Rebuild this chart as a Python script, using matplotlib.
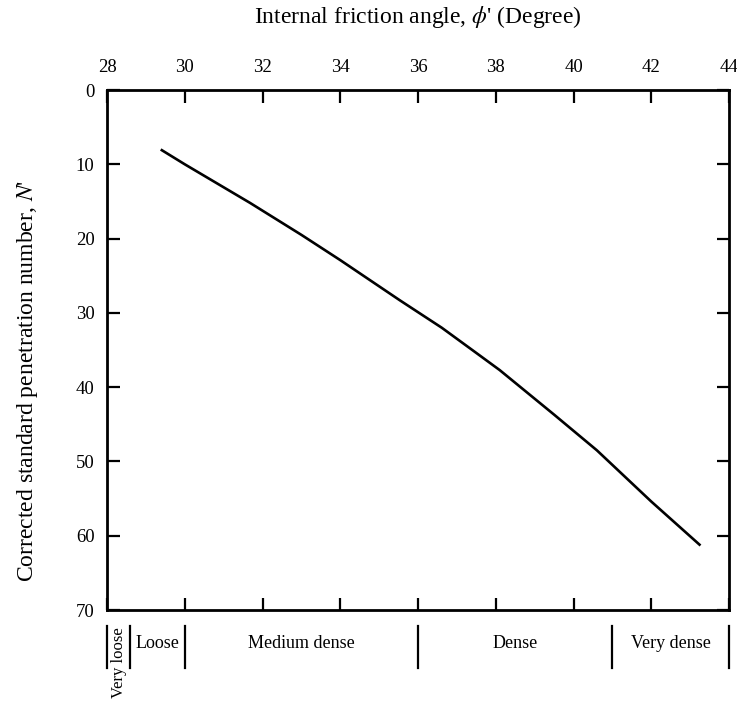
import matplotlib
matplotlib.use("Agg")
from matplotlib import pyplot as plt
import matplotlib.transforms as mtransforms
import numpy as np

plt.rcParams["font.family"] = ["Liberation Serif", "DejaVu Serif"]
plt.rcParams["mathtext.fontset"] = "stix"

# curve: friction angle (deg) vs corrected N
phi_deg = [29.41, 30.0, 31.68, 33.0, 34.0, 35.53, 36.61, 37.5, 38.1, 39.5,
           40.6, 42.0, 43.24]
n_corr = [8.1, 10.0, 15.2, 19.5, 22.9, 28.3, 32.0, 35.4, 37.7, 43.7,
          48.5, 55.4, 61.2]

x_ticks = [28, 30, 32, 34, 36, 38, 40, 42, 44]
y_ticks = [0, 10, 20, 30, 40, 50, 60, 70]

# density classes under the plot
class_bounds = [28, 28.6, 30, 36, 41, 44]
class_names = ["Very loose", "Loose", "Medium dense", "Dense", "Very dense"]

fig = plt.figure(figsize=(7.37, 7.01), dpi=100)
ax = fig.add_axes([0.1452, 0.1298, 0.844, 0.7418])

ax.plot(phi_deg, n_corr, color="black", lw=1.9)

ax.set_xlim(28, 44)
ax.set_ylim(70, 0)
ax.set_xticks(x_ticks)
ax.set_yticks(y_ticks)
ax.xaxis.tick_top()
ax.tick_params(axis="x", which="both", direction="in", top=True, bottom=True,
               labeltop=True, labelbottom=False, length=9, width=1.6, pad=10,
               labelsize=13.5)
ax.tick_params(axis="y", which="both", direction="in", left=True, right=True,
               labelleft=True, labelright=False, length=9, width=1.6, pad=9,
               labelsize=13.5)
for sp in ax.spines.values():
    sp.set_linewidth(2)

ax.xaxis.set_label_position("top")
ax.set_xlabel(r"Internal friction angle, $\phi$' (Degree)", fontsize=17, labelpad=26)
ax.set_ylabel(r"Corrected standard penetration number, $N$'", fontsize=17)
ax.yaxis.set_label_coords(-0.108, 0.44)

# density class band below the axes
trans = mtransforms.blended_transform_factory(ax.transData, ax.transAxes)
band_top, band_bot = -0.031, -0.112
for b in class_bounds:
    ax.plot([b, b], [band_top, band_bot], color="black", lw=1.6,
            transform=trans, clip_on=False)

for i, name in enumerate(class_names):
    mid = (class_bounds[i] + class_bounds[i + 1]) / 2
    if i == 0:
        ax.text(mid, band_top - 0.003, name, rotation=90, ha="center", va="top",
                fontsize=12, transform=trans)
    else:
        ax.text(mid, -0.064, name, ha="center", va="center", fontsize=13,
                transform=trans)

fig.savefig("out.png", dpi=100)
